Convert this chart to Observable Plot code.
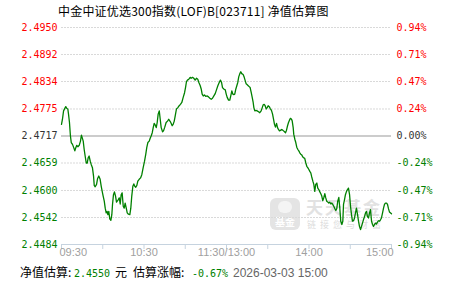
<!DOCTYPE html>
<html>
<head>
<meta charset="utf-8">
<script src="https://cdn.jsdelivr.net/npm/d3@7"></script>
<script src="https://cdn.jsdelivr.net/npm/@observablehq/plot@0.6"></script>
<style>
  html, body { margin: 0; padding: 0; background: #fff; }
  #wrap { position: relative; width: 451px; height: 281px; overflow: hidden; font-family: "Noto Sans CJK SC", sans-serif; }
  #title { position: absolute; left: 58px; top: 1px; height: 20px; line-height: 20px; font-size: 12px; color: #000; white-space: nowrap; letter-spacing: 0.2px; }
  #chart { position: absolute; left: 0; top: 20px; z-index: 2; }
  #footer { position: absolute; left: 20px; top: 263px; height: 18px; line-height: 18px; font-size: 12px; color: #000; white-space: nowrap; }
  #footer span { display: inline-block; }
  .mono { font-family: "DejaVu Sans Mono", monospace; font-size: 10px; }
  .green { color: #008000; }
  .date { font-family: "Liberation Sans", Arial, sans-serif; color: #666; font-size: 12px; }
  #wm { position: absolute; left: 270px; top: 198px; z-index: 1; }
  #wm .box { position: absolute; left: 0; top: 0; width: 30px; height: 32px; border-radius: 6px; background: #e4e4e4; }
  #wm .box span { position: absolute; left: 0; width: 30px; bottom: 2px; text-align: center; color: #fff; font-size: 10px; line-height: 12px; font-weight: bold; }
  #wm .box i { position: absolute; left: 8px; top: 3px; width: 14px; height: 12px; border-radius: 7px; background: #f4f4f4; }
  #wm .big { position: absolute; left: 36px; top: 0px; font-size: 17px; line-height: 17px; height: 17px; color: #e2e2e2; letter-spacing: 2px; font-family: "Noto Sans CJK SC", serif; font-weight: bold; white-space: nowrap; }
  #wm .small { position: absolute; left: 37px; top: 22px; font-size: 9px; line-height: 9px; height: 9px; color: #dcdcdc; letter-spacing: 4px; white-space: nowrap; }
</style>
</head>
<body>
<div id="wrap">
  <div id="title">中金中证优选300指数(LOF)B[023711] 净值估算图</div>
  <div id="wm"><div class="box"><i></i><span>基金</span></div><div class="big">天天基金</div><div class="small">链接您与财富</div></div>
  <div id="chart"></div>
  <div id="footer"><span style="width:54px">净值估算:</span><span class="mono green" style="width:41px">2.4550</span><span style="width:18px">元</span><span style="width:59px">估算涨幅:</span><span class="mono green" style="width:41px">-0.67%</span><span class="date">2026-03-03 15:00</span></div>
</div>
<script>
// minutes since 09:30 (lunch break collapsed: 11:30 and 13:00 both = 120)
const minutes = [0,0.7,1.5,2.7,3.1,3.9,4.6,5.1,5.8,6.5,7.1,8.0,8.9,9.7,10.4,11.1,11.9,12.9,13.8,14.5,15.1,15.8,16.5,17.2,18.0,18.7,19.4,20.1,20.9,21.6,22.5,23.3,23.8,24.5,25.5,26.2,27.1,28.1,28.9,29.6,30.3,31.1,31.8,32.5,33.2,33.7,34.4,35.1,35.9,36.6,37.1,37.8,38.5,39.3,40.0,41.2,42.0,42.7,43.4,44.1,44.9,45.6,46.3,47.1,47.8,48.7,49.7,50.4,51.1,51.9,52.6,53.3,54.0,54.8,55.5,56.5,57.5,58.4,59.4,60.4,61.3,62.0,62.8,63.8,64.5,65.2,66.0,66.7,67.4,68.1,68.9,69.6,70.3,71.1,71.8,72.5,73.5,74.2,75.1,76.1,77.1,78.0,79.1,79.8,80.5,81.2,82.0,82.7,83.6,84.6,85.6,86.5,87.5,88.5,89.5,90.2,90.9,91.6,92.6,93.6,94.3,95.3,96.2,97.2,98.2,99.1,99.9,100.9,101.6,102.3,103.1,104.0,104.9,106.0,106.9,107.9,108.9,109.8,110.8,111.8,112.7,113.7,114.7,115.6,116.4,117.1,118.0,119.1,119.8,120.5,121.5,122.4,123.1,123.9,124.6,125.3,126.0,126.8,127.5,128.2,128.9,129.7,130.4,131.1,132.1,132.9,133.6,134.3,135.1,135.8,136.5,137.2,138.0,138.7,139.4,139.9,140.6,141.3,142.3,143.3,144.2,145.2,146.0,146.7,147.4,148.1,148.9,149.6,150.3,151.1,151.8,152.7,153.5,154.2,154.9,155.6,156.4,157.1,157.8,158.5,159.3,160.0,160.7,161.5,162.2,162.9,163.6,164.4,165.1,165.8,166.5,167.3,167.8,168.5,168.9,169.7,170.4,171.1,171.9,172.6,173.3,174.0,174.8,175.5,176.2,176.9,177.7,178.4,179.1,179.9,180.6,181.3,182.0,182.8,183.5,184.2,184.9,185.7,186.4,187.1,187.9,188.6,189.3,190.0,190.8,191.5,192.2,192.9,193.7,194.4,195.1,195.9,196.6,197.3,198.0,198.8,199.5,200.2,200.9,201.7,202.4,203.1,203.9,204.6,205.1,205.8,206.5,207.3,208.0,208.7,209.5,210.2,210.9,211.6,212.4,213.1,213.8,214.5,215.3,216.0,216.7,217.5,218.2,218.9,219.6,220.4,221.1,221.8,222.5,223.3,224.0,224.7,225.5,226.2,226.9,227.6,228.4,229.1,229.8,230.5,231.3,232.0,232.7,233.5,234.2,234.9,235.6,236.4,237.1,237.8,238.5,240.0];
const nav = [2.4742,2.4753,2.4771,2.4778,2.4780,2.4776,2.4775,2.4764,2.4746,2.4717,2.4703,2.4699,2.4692,2.4685,2.4692,2.4697,2.4694,2.4697,2.4706,2.4719,2.4713,2.4706,2.4688,2.4674,2.4659,2.4659,2.4670,2.4674,2.4663,2.4656,2.4649,2.4631,2.4611,2.4608,2.4613,2.4625,2.4631,2.4624,2.4609,2.4598,2.4588,2.4577,2.4562,2.4552,2.4555,2.4548,2.4555,2.4539,2.4536,2.4548,2.4570,2.4591,2.4597,2.4588,2.4575,2.4580,2.4584,2.4571,2.4591,2.4595,2.4566,2.4562,2.4573,2.4562,2.4552,2.4549,2.4548,2.4562,2.4588,2.4609,2.4614,2.4609,2.4607,2.4611,2.4620,2.4624,2.4627,2.4634,2.4649,2.4663,2.4678,2.4692,2.4703,2.4706,2.4712,2.4717,2.4724,2.4735,2.4744,2.4741,2.4735,2.4746,2.4764,2.4771,2.4753,2.4735,2.4726,2.4728,2.4736,2.4746,2.4749,2.4753,2.4748,2.4744,2.4739,2.4742,2.4749,2.4760,2.4775,2.4778,2.4782,2.4785,2.4789,2.4800,2.4810,2.4821,2.4834,2.4837,2.4839,2.4843,2.4841,2.4843,2.4841,2.4837,2.4841,2.4839,2.4832,2.4825,2.4818,2.4807,2.4803,2.4805,2.4802,2.4803,2.4801,2.4798,2.4796,2.4798,2.4803,2.4808,2.4816,2.4825,2.4832,2.4837,2.4832,2.4821,2.4818,2.4816,2.4807,2.4800,2.4794,2.4794,2.4803,2.4814,2.4807,2.4806,2.4807,2.4818,2.4825,2.4832,2.4844,2.4851,2.4855,2.4851,2.4849,2.4843,2.4836,2.4829,2.4827,2.4825,2.4823,2.4821,2.4810,2.4800,2.4789,2.4778,2.4771,2.4772,2.4771,2.4769,2.4767,2.4771,2.4778,2.4784,2.4785,2.4782,2.4775,2.4778,2.4782,2.4780,2.4776,2.4772,2.4764,2.4753,2.4742,2.4736,2.4744,2.4735,2.4731,2.4728,2.4729,2.4731,2.4730,2.4728,2.4726,2.4724,2.4729,2.4739,2.4746,2.4751,2.4755,2.4753,2.4749,2.4735,2.4721,2.4710,2.4703,2.4693,2.4688,2.4685,2.4681,2.4678,2.4676,2.4672,2.4670,2.4669,2.4659,2.4652,2.4649,2.4645,2.4641,2.4638,2.4629,2.4620,2.4613,2.4598,2.4613,2.4616,2.4605,2.4602,2.4597,2.4593,2.4588,2.4578,2.4585,2.4593,2.4584,2.4577,2.4575,2.4573,2.4575,2.4571,2.4573,2.4570,2.4566,2.4561,2.4557,2.4561,2.4577,2.4585,2.4562,2.4534,2.4527,2.4534,2.4570,2.4580,2.4591,2.4598,2.4602,2.4605,2.4591,2.4566,2.4548,2.4534,2.4535,2.4541,2.4552,2.4562,2.4548,2.4534,2.4523,2.4516,2.4523,2.4530,2.4537,2.4544,2.4552,2.4555,2.4544,2.4541,2.4552,2.4559,2.4534,2.4527,2.4523,2.4527,2.4530,2.4528,2.4532,2.4535,2.4534,2.4537,2.4541,2.4552,2.4562,2.4570,2.4573,2.4573,2.4570,2.4561,2.4554,2.4550];

const baseNav = 2.4717;
const navTicks = [2.4484, 2.4542, 2.4600, 2.4659, 2.4717, 2.4775, 2.4834, 2.4892, 2.4950];
const navLabels = ["2.4484", "2.4542", "2.4600", "2.4659", "2.4717", "2.4775", "2.4834", "2.4892", "2.4950"];
const pctLabels = ["-0.94%", "-0.71%", "-0.47%", "-0.24%", "0.00%", "0.24%", "0.47%", "0.71%", "0.94%"];
const timeTicks = [0, 30, 60, 90, 120, 150, 180, 210, 240];
const timeLabelAt = [0, 60, 120, 180, 240];
const timeLabels = ["09:30", "10:30", "11:30/13:00", "14:00", "15:00"];

const series = minutes.map((m, i) => ({m, v: nav[i]}));
const ticks = navTicks.map((v, i) => ({v, nav: navLabels[i], pct: pctLabels[i],
  color: v > baseNav ? "#ff0000" : v < baseNav ? "#008000" : "#333333"}));
const tlab = timeLabelAt.map((m, i) => ({m, t: timeLabels[i]}));

const yMin = navTicks[0], yMax = navTicks[navTicks.length - 1];

const chart = Plot.plot({
  width: 451, height: 242,
  marginTop: 7, marginBottom: 18, marginLeft: 61, marginRight: 60,
  style: {background: "transparent", overflow: "visible"},
  x: {domain: [0, 240], axis: null, label: null},
  y: {domain: [yMin, yMax], axis: null, label: null},
  color: {type: "identity"},
  marks: [
    Plot.ruleY(navTicks.filter(v => v !== baseNav && v !== yMin), {stroke: "#d9d9d9", strokeDasharray: "2,1"}),
    Plot.ruleY([baseNav], {stroke: "#999999"}),
    Plot.ruleY([yMin], {stroke: "#c6d3df"}),
    Plot.axisX({ticks: timeTicks, tickSize: 5, tickFormat: () => "", stroke: "#c6d3df", strokeOpacity: 1, label: null}),
    Plot.line(series, {x: "m", y: "v", stroke: "#008000", strokeWidth: 1.3}),
    Plot.text(ticks, {y: "v", text: "nav", fill: "color", frameAnchor: "left", dx: -4, textAnchor: "end",
      fontFamily: "DejaVu Sans Mono", fontSize: 10}),
    Plot.text(ticks, {y: "v", text: "pct", fill: "color", frameAnchor: "right", dx: 5, textAnchor: "start",
      fontFamily: "DejaVu Sans Mono", fontSize: 10}),
    Plot.text(tlab.slice(0, 1), {x: "m", text: "t", frameAnchor: "bottom", dy: 11, textAnchor: "start", dx: -2,
      fill: "#a0a0a0", fontFamily: "Liberation Sans", fontSize: 11}),
    Plot.text(tlab.slice(1, -1), {x: "m", text: "t", frameAnchor: "bottom", dy: 11, textAnchor: "middle",
      fill: "#a0a0a0", fontFamily: "Liberation Sans", fontSize: 11}),
    Plot.text(tlab.slice(-1), {x: "m", text: "t", frameAnchor: "bottom", dy: 11, textAnchor: "end", dx: 2,
      fill: "#a0a0a0", fontFamily: "Liberation Sans", fontSize: 11})
  ]
});
document.getElementById("chart").appendChild(chart);
</script>
</body>
</html>
